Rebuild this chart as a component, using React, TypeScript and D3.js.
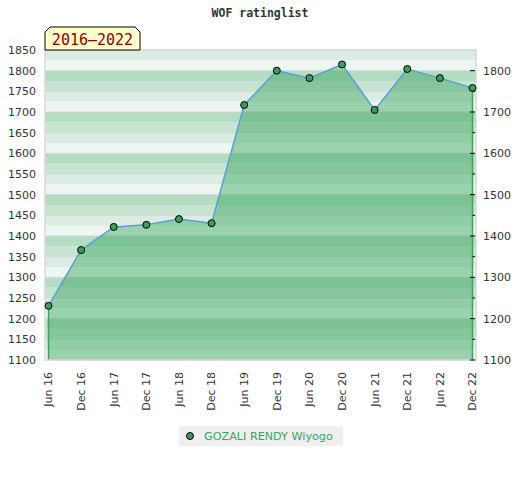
import React from 'react'
import * as d3 from 'd3'

// half-year rating periods and the player's rating at each one
const periods = [
  'Jun 16', 'Dec 16', 'Jun 17', 'Dec 17', 'Jun 18', 'Dec 18', 'Jun 19',
  'Dec 19', 'Jun 20', 'Dec 20', 'Jun 21', 'Dec 21', 'Jun 22', 'Dec 22'
]
const ratings = [1231, 1366, 1422, 1427, 1441, 1431, 1717, 1800, 1782, 1815, 1705, 1804, 1782, 1758]
const leftTicks = [1100, 1150, 1200, 1250, 1300, 1350, 1400, 1450, 1500, 1550, 1600, 1650, 1700, 1750, 1800, 1850]
const rightTicks = [1100, 1200, 1300, 1400, 1500, 1600, 1700, 1800]
const rightMinor = [1150, 1250, 1350, 1450, 1550, 1650, 1750]
const title = 'WOF ratinglist'
const rangeLabel = '2016–2022'
const playerName = 'GOZALI RENDY Wiyogo'

const W = 520
const H = 480
const left = 45
const right = 476
const top = 50
const bottom = 360

// stripe shades, indexed by (value % 100) / 25
const bandColors = ['#eef6f1', '#dbece2', '#c6e4d1', '#b3dcc3']

const App: React.FC = () => {
  const x = d3.scalePoint<string>().domain(periods).range([48.5, 472.5])
  const y = d3.scaleLinear().domain([1100, 1850]).range([bottom, top])

  const pts = periods.map((p, i) => ({ p, v: ratings[i] }))

  const area = d3
    .area<{ p: string; v: number }>()
    .x((d) => x(d.p)!)
    .y0(bottom)
    .y1((d) => y(d.v))
  const line = d3
    .line<{ p: string; v: number }>()
    .x((d) => x(d.p)!)
    .y((d) => y(d.v))

  const bands = d3.range(1100, 1850, 25)
  const first = pts[0]
  const last = pts[pts.length - 1]

  const font = 'DejaVu Sans, sans-serif'
  const mono = 'DejaVu Sans Mono, monospace'

  return (
    <svg
      width={W}
      height={H}
      style={{ position: 'absolute', left: 0, top: 0, background: '#fff' }}
    >
      <text
        x={260}
        y={17}
        textAnchor="middle"
        fontFamily={mono}
        fontWeight="bold"
        fontSize={11.5}
        fill="#333"
      >
        {title}
      </text>

      {/* striped background */}
      {bands.map((b) => (
        <rect
          key={b}
          x={left}
          y={y(b + 25)}
          width={right - left}
          height={y(b) - y(b + 25)}
          fill={bandColors[(b % 100) / 25]}
        />
      ))}
      {leftTicks.map((t) => (
        <line key={t} x1={left} x2={right} y1={y(t)} y2={y(t)} stroke="#d6d6d6" strokeWidth={1} />
      ))}

      {/* rating area */}
      <path d={area(pts) ?? ''} fill="rgb(56,166,91)" fillOpacity={0.46} />
      <line x1={x(first.p)} x2={x(first.p)} y1={y(first.v)} y2={bottom} stroke="#3aa65c" strokeWidth={1.5} />
      <line x1={x(last.p)} x2={x(last.p)} y1={y(last.v)} y2={bottom} stroke="#3aa65c" strokeWidth={1.5} />
      <path d={line(pts) ?? ''} fill="none" stroke="#5b9fd8" strokeWidth={1.5} />

      <rect
        x={left}
        y={top}
        width={right - left}
        height={bottom - top}
        fill="none"
        stroke="#d9d9d9"
        strokeWidth={1.5}
      />

      {pts.map((d) => (
        <circle key={d.p} cx={x(d.p)} cy={y(d.v)} r={3.5} fill="#3a9e5a" stroke="#000" strokeWidth={1} />
      ))}

      {/* left axis labels */}
      {leftTicks.map((t) => (
        <text
          key={t}
          x={36}
          y={y(t)}
          dy="0.35em"
          textAnchor="end"
          fontFamily={font}
          fontSize={11}
          fill="#333"
        >
          {t}
        </text>
      ))}

      {/* right axis */}
      {rightTicks.map((t) => (
        <g key={t}>
          <line x1={470} x2={475} y1={y(t)} y2={y(t)} stroke="#000" strokeWidth={1} />
          <text x={483} y={y(t)} dy="0.35em" fontFamily={font} fontSize={11} fill="#333">
            {t}
          </text>
        </g>
      ))}
      {rightMinor.map((t) => (
        <line key={t} x1={472.5} x2={475} y1={y(t)} y2={y(t)} stroke="#000" strokeWidth={1} />
      ))}

      {/* x labels */}
      {periods.map((p) => (
        <text
          key={p}
          transform={`translate(${x(p)},${bottom + 12}) rotate(-90)`}
          dy="0.35em"
          textAnchor="end"
          fontFamily={font}
          fontSize={11}
          fill="#333"
        >
          {p}
        </text>
      ))}

      {/* period tag */}
      <path
        d={`M${left},${top} L${left},${top - 18} L${left + 5},${top - 23} L135,${top - 23} L140,${top - 18} L140,${top} Z`}
        fill="#ffffcc"
        stroke="#000"
        strokeWidth={1}
      />
      <text x={92.5} y={top - 5} textAnchor="middle" fontFamily={mono} fontSize={15} fill="#8b0000">
        {rangeLabel}
      </text>

      {/* legend */}
      <rect x={179} y={426} width={164} height={20} fill="#efefef" />
      <circle cx={190} cy={436} r={3.5} fill="#3a9e5a" stroke="#000" strokeWidth={1} />
      <text x={204} y={436} dy="0.35em" fontFamily={font} fontSize={11.2} fill="#3aa65c">
        {playerName}
      </text>
    </svg>
  )
}

export default App
